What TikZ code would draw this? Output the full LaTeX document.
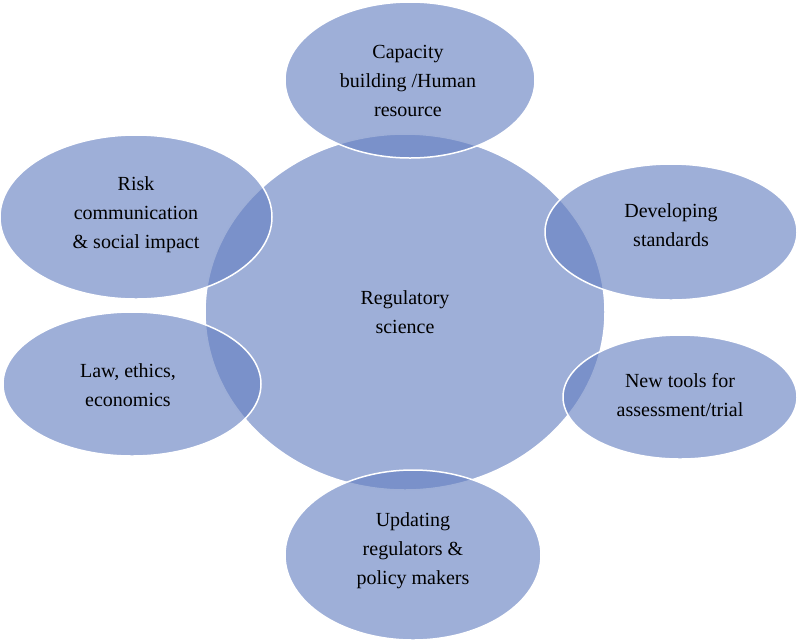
\documentclass[tikz,border=0pt]{standalone}
\usepackage{fontspec}
\setmainfont{Liberation Serif}
\begin{document}
\begin{tikzpicture}[x=1pt,y=-1pt,
  bub/.style={fill=bubc,fill opacity=0.63,draw=white,line width=1.5pt},
  lbl/.style={align=center,font=\fontsize{20}{29}\selectfont,text=black}]
\definecolor{bubc}{RGB}{101,128,193}
\useasboundingbox (0,0) rectangle (797,641);
\path[bub] (405,312) ellipse [x radius=200,y radius=178];
\path[bub] (410,80) ellipse [x radius=125,y radius=78];
\path[bub] (136,217) ellipse [x radius=136,y radius=82];
\path[bub] (671,232) ellipse [x radius=126,y radius=68];
\path[bub] (132,384) ellipse [x radius=129,y radius=72];
\path[bub] (680,397) ellipse [x radius=117,y radius=62];
\path[bub] (413,555) ellipse [x radius=128,y radius=85];
\node[lbl] (c) at (405,312) {Regulatory\\science};
\node[lbl] (t) at (408,81) {Capacity\\building /Human\\resource};
\node[lbl] (tl) at (136,215) {Risk\\communication\\\& social impact};
\node[lbl] (r1) at (671,225) {Developing\\standards};
\node[lbl] (l2) at (128,385) {Law, ethics,\\economics};
\node[lbl] (r2) at (680,395) {New tools for\\assessment/trial};
\node[lbl] (b) at (413,551) {Updating\\regulators \&\\policy makers};
\end{tikzpicture}
\end{document}
